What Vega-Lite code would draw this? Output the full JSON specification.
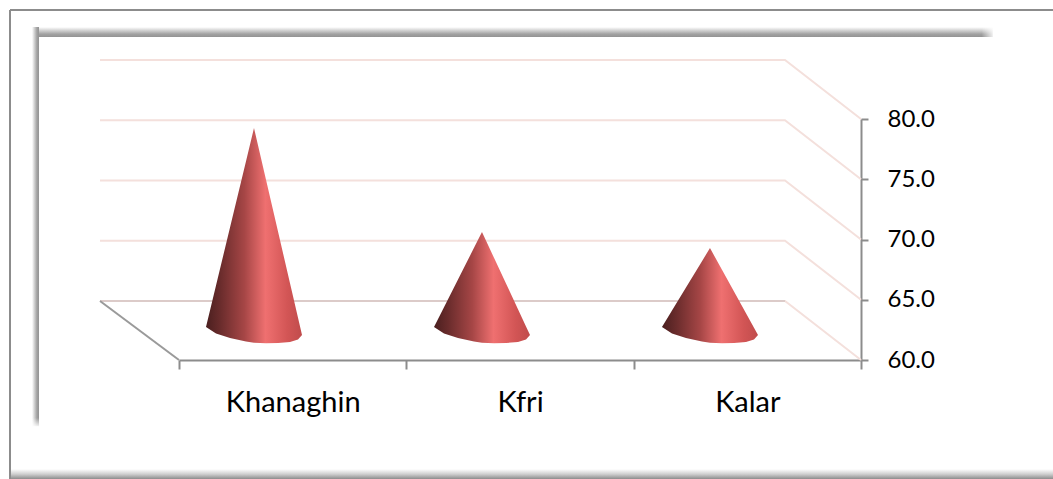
{
"$schema":"https://vega.github.io/schema/vega-lite/v6.json",
"width":682,"height":241,
"autosize":{"type":"none"},
"padding":{"left":179,"top":119,"right":192,"bottom":119},
"background":"#ffffff",
"config":{"view":{"stroke":null},"font":"Lato"},
"datasets":{
"sites":[{"site":"Khanaghin","tip":79.25},{"site":"Kfri","tip":70.62},{"site":"Kalar","tip":69.29}],
"cones":[
{"site":"Khanaghin","pos":0.1188,"top":62.74,"base":62.74},
{"site":"Khanaghin","pos":0.1628,"top":66.18,"base":62.2},
{"site":"Khanaghin","pos":0.2244,"top":71.0,"base":61.83},
{"site":"Khanaghin","pos":0.2948,"top":76.5,"base":61.54},
{"site":"Khanaghin","pos":0.3299,"top":79.25,"base":61.44},
{"site":"Khanaghin","pos":0.3827,"top":74.96,"base":61.39},
{"site":"Khanaghin","pos":0.4355,"top":70.66,"base":61.41},
{"site":"Khanaghin","pos":0.4883,"top":66.37,"base":61.49},
{"site":"Khanaghin","pos":0.5235,"top":63.5,"base":61.7},
{"site":"Khanaghin","pos":0.5411,"top":62.07,"base":62.07},
{"site":"Kfri","pos":1.1217,"top":62.74,"base":62.74},
{"site":"Kfri","pos":1.1657,"top":64.38,"base":62.2},
{"site":"Kfri","pos":1.2273,"top":66.68,"base":61.83},
{"site":"Kfri","pos":1.2977,"top":69.31,"base":61.54},
{"site":"Kfri","pos":1.3328,"top":70.62,"base":61.44},
{"site":"Kfri","pos":1.3856,"top":68.48,"base":61.39},
{"site":"Kfri","pos":1.4384,"top":66.35,"base":61.41},
{"site":"Kfri","pos":1.4912,"top":64.21,"base":61.49},
{"site":"Kfri","pos":1.5264,"top":62.78,"base":61.7},
{"site":"Kfri","pos":1.544,"top":62.07,"base":62.07},
{"site":"Kalar","pos":2.1246,"top":62.74,"base":62.74},
{"site":"Kalar","pos":2.1686,"top":64.1,"base":62.2},
{"site":"Kalar","pos":2.2302,"top":66.02,"base":61.83},
{"site":"Kalar","pos":2.3006,"top":68.2,"base":61.54},
{"site":"Kalar","pos":2.3357,"top":69.29,"base":61.44},
{"site":"Kalar","pos":2.3885,"top":67.49,"base":61.39},
{"site":"Kalar","pos":2.4413,"top":65.68,"base":61.41},
{"site":"Kalar","pos":2.4941,"top":63.88,"base":61.49},
{"site":"Kalar","pos":2.5293,"top":62.67,"base":61.7},
{"site":"Kalar","pos":2.5469,"top":62.07,"base":62.07}
],
"grid":[
{"level":60,"pos":-0.3475,"val":64.9},{"level":60,"pos":2.6657,"val":64.9},{"level":60,"pos":3,"val":60},
{"level":65,"pos":-0.3475,"val":69.9},{"level":65,"pos":2.6657,"val":69.9},{"level":65,"pos":3,"val":65},
{"level":70,"pos":-0.3475,"val":74.9},{"level":70,"pos":2.6657,"val":74.9},{"level":70,"pos":3,"val":70},
{"level":75,"pos":-0.3475,"val":79.9},{"level":75,"pos":2.6657,"val":79.9},{"level":75,"pos":3,"val":75},
{"level":80,"pos":-0.3475,"val":84.9},{"level":80,"pos":2.6657,"val":84.9},{"level":80,"pos":3,"val":80}
],
"floorBack":[{"pos":-0.3475,"val":64.9},{"pos":2.6657,"val":64.9}],
"floorEdge":[{"pos":-0.3475,"val":64.9},{"pos":0,"val":60}],
"frameLeft":[{"pos":-0.7434,"val":89.05},{"pos":-0.7434,"val":50.12}],
"frameTop":[{"pos":-0.7434,"val":89.05},{"pos":3.845,"val":89.05}],
"shadeTop":[{"a":-0.6466,"b":3.58,"c":87.63,"d":86.8}],
"shadeLeft":[{"a":-0.6466,"b":-0.6158,"c":87.63,"d":54.5}],
"shadeBottom":[{"a":-0.7434,"b":3.845,"c":50.95,"d":50.12}],
"fadeTopEnd":[{"a":3.53,"b":3.59,"c":87.7,"d":86.75}],
"fadeLeftEnd":[{"a":-0.65,"b":-0.6158,"c":55.2,"d":54.4}]
},
"layer":[
{"layer":[
{"data":{"name":"shadeTop"},
"mark":{"type":"rect","fill":{"gradient":"linear","x1":0,"y1":0,"x2":0,"y2":1,"stops":[{"offset":0,"color":"#ffffff"},{"offset":0.35,"color":"#d0d0d0"},{"offset":0.7,"color":"#a2a2a2"},{"offset":1,"color":"#939393"}]}},
"encoding":{"x":{"field":"a","type":"quantitative","axis":null,"scale":{"domain":[0,3],"nice":false,"zero":false}},"x2":{"field":"b"},"y":{"field":"c","type":"quantitative","axis":null,"scale":{"domain":[60,80],"nice":false,"zero":false}},"y2":{"field":"d"}}},
{"data":{"name":"shadeLeft"},
"mark":{"type":"rect","fill":{"gradient":"linear","x1":0,"y1":0,"x2":1,"y2":0,"stops":[{"offset":0,"color":"#ffffff"},{"offset":0.35,"color":"#d0d0d0"},{"offset":0.7,"color":"#a2a2a2"},{"offset":1,"color":"#939393"}]}},
"encoding":{"x":{"field":"a","type":"quantitative","axis":null},"x2":{"field":"b"},"y":{"field":"c","type":"quantitative","axis":null},"y2":{"field":"d"}}},
{"data":{"name":"fadeTopEnd"},
"mark":{"type":"rect","fill":{"gradient":"linear","x1":0,"y1":0,"x2":1,"y2":0,"stops":[{"offset":0,"color":"rgba(255,255,255,0)"},{"offset":1,"color":"rgba(255,255,255,1)"}]}},
"encoding":{"x":{"field":"a","type":"quantitative","axis":null},"x2":{"field":"b"},"y":{"field":"c","type":"quantitative","axis":null},"y2":{"field":"d"}}},
{"data":{"name":"fadeLeftEnd"},
"mark":{"type":"rect","fill":{"gradient":"linear","x1":0,"y1":0,"x2":0,"y2":1,"stops":[{"offset":0,"color":"rgba(255,255,255,0)"},{"offset":1,"color":"rgba(255,255,255,1)"}]}},
"encoding":{"x":{"field":"a","type":"quantitative","axis":null},"x2":{"field":"b"},"y":{"field":"c","type":"quantitative","axis":null},"y2":{"field":"d"}}},
{"data":{"name":"shadeBottom"},
"mark":{"type":"rect","fill":{"gradient":"linear","x1":0,"y1":0,"x2":0,"y2":1,"stops":[{"offset":0,"color":"#ffffff"},{"offset":0.5,"color":"#d0d0d0"},{"offset":1,"color":"#8c8c8c"}]}},
"encoding":{"x":{"field":"a","type":"quantitative","axis":null},"x2":{"field":"b"},"y":{"field":"c","type":"quantitative","axis":null},"y2":{"field":"d"}}},
{"data":{"name":"frameLeft"},"mark":{"type":"line","stroke":"#8c8c8c","strokeWidth":2},
"encoding":{"x":{"field":"pos","type":"quantitative","axis":null},"y":{"field":"val","type":"quantitative","axis":null},"order":{"field":"val"}}},
{"data":{"name":"frameTop"},"mark":{"type":"line","stroke":"#8c8c8c","strokeWidth":2},
"encoding":{"x":{"field":"pos","type":"quantitative","axis":null},"y":{"field":"val","type":"quantitative","axis":null}}},
{"data":{"name":"grid"},"mark":{"type":"line","stroke":"#f4e0dc","strokeWidth":2},
"encoding":{"x":{"field":"pos","type":"quantitative","axis":null},"y":{"field":"val","type":"quantitative","axis":null},"detail":{"field":"level"}}},
{"data":{"name":"floorBack"},"mark":{"type":"line","stroke":"#dccbc9","strokeWidth":2},
"encoding":{"x":{"field":"pos","type":"quantitative","axis":null},"y":{"field":"val","type":"quantitative","axis":null}}},
{"data":{"name":"floorEdge"},"mark":{"type":"line","stroke":"#9a9a9a","strokeWidth":2},
"encoding":{"x":{"field":"pos","type":"quantitative","axis":null},"y":{"field":"val","type":"quantitative","axis":null}}},
{"data":{"name":"cones"},
"mark":{"type":"area","fill":{"gradient":"linear","x1":0,"y1":0,"x2":1,"y2":0,"stops":[{"offset":0,"color":"#4a1f1f"},{"offset":0.15,"color":"#6a2c2c"},{"offset":0.4,"color":"#a64646"},{"offset":0.62,"color":"#ef7070"},{"offset":0.85,"color":"#d25555"},{"offset":1,"color":"#c04c4c"}]}},
"encoding":{"x":{"field":"pos","type":"quantitative","axis":null},"y":{"field":"top","type":"quantitative","axis":{"orient":"right","values":[60,65,70,75,80],"format":".1f","title":null,"grid":false,"tickSize":7,"tickWidth":2,"tickColor":"#8c8c8c","domainColor":"#8c8c8c","domainWidth":2,"labelFontSize":24,"labelColor":"#000000","labelPadding":19,"labelFont":"Lato"}},"y2":{"field":"base"},"detail":{"field":"site"}}}
],
"resolve":{"axis":{"y":"independent"}}},
{"data":{"name":"sites"},
"mark":{"type":"bar","opacity":0},
"encoding":{"x":{"field":"site","type":"nominal","sort":null,"scale":{"paddingInner":0,"paddingOuter":0},"axis":{"orient":"bottom","title":null,"tickBand":"extent","labelAngle":0,"tickSize":9,"tickWidth":2,"tickColor":"#8c8c8c","domainColor":"#8c8c8c","domainWidth":2,"labelFontSize":29,"labelColor":"#000000","labelPadding":19,"labelFont":"Lato","grid":false}},"y":{"field":"tip","type":"quantitative","axis":null}}}
],
"resolve":{"scale":{"x":"independent"},"axis":{"x":"independent","y":"independent"}}
}
